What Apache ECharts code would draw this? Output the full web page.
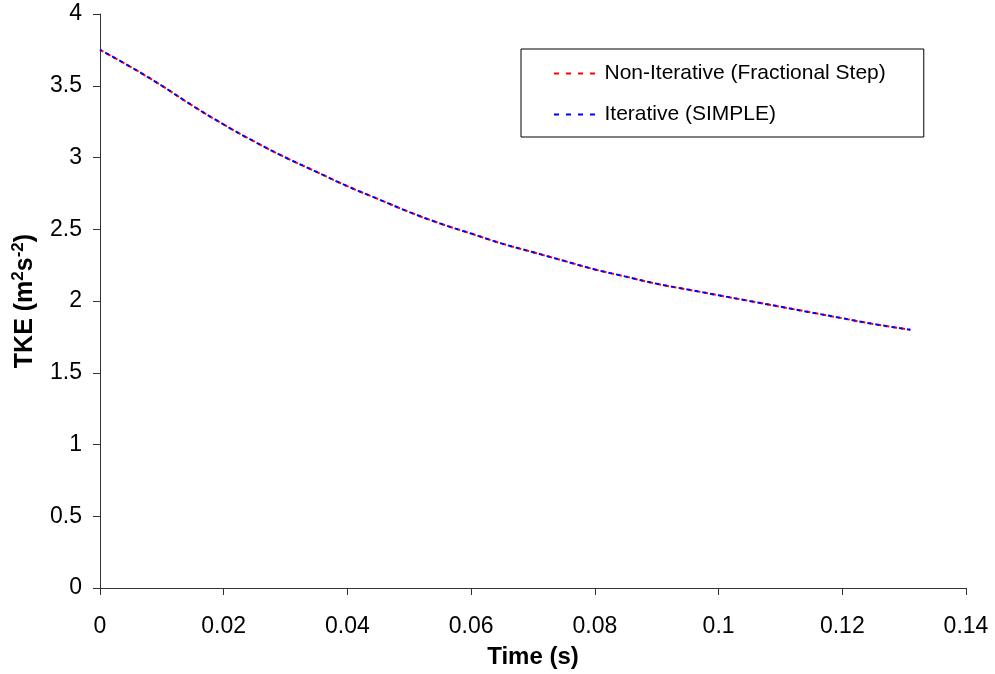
<!DOCTYPE html>
<html>
<head>
<meta charset="utf-8">
<script src="https://cdn.jsdelivr.net/npm/echarts@6/dist/echarts.min.js"></script>
<style>html,body{margin:0;padding:0;background:#fff}#c{width:995px;height:674px}</style>
</head>
<body>
<div id="c"></div>
<script>
const timeValues = [0, 0.005, 0.01, 0.015, 0.02, 0.025, 0.03, 0.035, 0.04, 0.045, 0.05, 0.055, 0.06, 0.065, 0.07, 0.075, 0.08, 0.085, 0.09, 0.095, 0.1, 0.105, 0.11, 0.115, 0.12, 0.125, 0.131];
const nonIterativeTKE = [3.75, 3.63, 3.50, 3.36, 3.23, 3.11, 3.00, 2.90, 2.80, 2.71, 2.62, 2.54, 2.47, 2.40, 2.34, 2.28, 2.22, 2.17, 2.12, 2.08, 2.04, 2.00, 1.96, 1.92, 1.88, 1.84, 1.80];
const iterativeTKE = [3.75, 3.63, 3.50, 3.36, 3.23, 3.11, 3.00, 2.90, 2.80, 2.71, 2.62, 2.54, 2.47, 2.40, 2.34, 2.28, 2.22, 2.17, 2.12, 2.08, 2.04, 2.00, 1.96, 1.92, 1.88, 1.84, 1.80];
const seriesNames = ['Non-Iterative (Fractional Step)', 'Iterative (SIMPLE)'];

const pair = (xs, ys) => xs.map((x, i) => [x, ys[i]]);
const font = 'Liberation Sans, Arial, sans-serif';
const dashIcon = 'path://M0,0h5v2h-5z M12,0h5v2h-5z M24,0h5v2h-5z M36,0h5v2h-5z';
const chart = echarts.init(document.getElementById('c'));
chart.setOption({
  animation: false,
  backgroundColor: '#fff',
  grid: { left: 100, right: 29, top: 14, bottom: 85, containLabel: false },
  legend: {
    orient: 'vertical', left: 521, top: 49,
    backgroundColor: '#fff', borderColor: '#000', borderWidth: 1,
    padding: [14, 38, 12, 33], itemGap: 20,
    itemWidth: 46, itemHeight: 2, itemGap: 20,
    icon: dashIcon,
    textStyle: { fontFamily: font, fontSize: 21, color: '#000', lineHeight: 20, height: 20, padding: [0, 0, 0, 2] },
    data: seriesNames
  },
  xAxis: {
    type: 'value', min: 0, max: 0.14, interval: 0.02,
    name: 'Time (s)', nameLocation: 'middle', nameGap: 57,
    nameTextStyle: { fontFamily: font, fontSize: 24, fontWeight: 'bold', color: '#000' },
    axisLine: { lineStyle: { color: '#333', width: 1 } },
    axisTick: { show: true, length: 7, lineStyle: { color: '#333' } },
    axisLabel: { fontFamily: font, fontSize: 23, color: '#000', margin: 27,
      formatter: v => String(+v.toFixed(4)) },
    splitLine: { show: false }
  },
  yAxis: {
    type: 'value', min: 0, max: 4, interval: 0.5,
    name: '{b|TKE (m}{s|2}{b|s}{s|-2}{b|)}', nameLocation: 'middle', nameGap: 62,
    nameTextStyle: { fontFamily: font, fontSize: 25, fontWeight: 'bold', color: '#000',
      rich: {
        b: { fontFamily: font, fontSize: 25, fontWeight: 'bold', color: '#000', verticalAlign: 'bottom', lineHeight: 28 },
        s: { fontFamily: font, fontSize: 17, fontWeight: 'bold', color: '#000', verticalAlign: 'top', lineHeight: 28 }
      } },
    axisLine: { show: true, lineStyle: { color: '#333', width: 1 } },
    axisTick: { show: true, length: 7, lineStyle: { color: '#333' } },
    axisLabel: { fontFamily: font, fontSize: 23, color: '#000', margin: 18,
      formatter: v => String(+v.toFixed(2)) },
    splitLine: { show: false }
  },
  series: [
    { name: seriesNames[0], type: 'line', data: pair(timeValues, nonIterativeTKE),
      showSymbol: false, symbol: 'none', smooth: true,
      lineStyle: { color: '#ff0000', width: 2, type: [4, 4] }, itemStyle: { color: '#ff0000' } },
    { name: seriesNames[1], type: 'line', data: pair(timeValues, iterativeTKE),
      showSymbol: false, symbol: 'none', smooth: true,
      lineStyle: { color: '#0000ff', width: 2, type: [4, 4], dashOffset: 2 }, itemStyle: { color: '#0000ff' } }
  ]
});
</script>
</body>
</html>
